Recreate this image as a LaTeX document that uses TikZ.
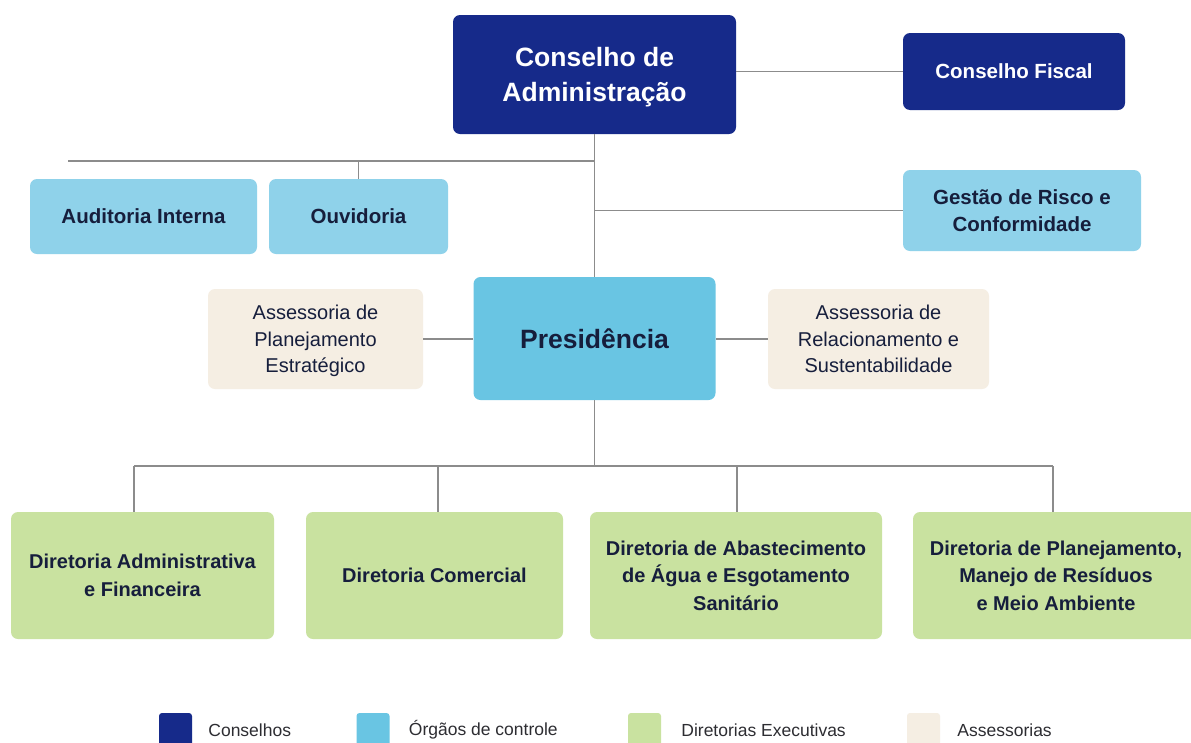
\documentclass[tikz,border=0pt]{standalone}
\usepackage{fontspec}
\setmainfont{Liberation Sans}
\usepackage{tikz}

\definecolor{navy}{RGB}{22,42,138}
\definecolor{ctrlblue}{RGB}{143,210,234}
\definecolor{presblue}{RGB}{105,197,227}
\definecolor{dirgreen}{RGB}{201,226,160}
\definecolor{assbeige}{RGB}{245,238,227}
\definecolor{linegray}{RGB}{140,140,140}
\definecolor{darktext}{RGB}{22,30,60}
\definecolor{legtext}{RGB}{45,45,50}

\tikzset{
  box/.style={rounded corners=7pt, align=center, inner sep=0pt},
  conselho/.style={box, fill=navy, text=white, font=\bfseries},
  controle/.style={box, fill=ctrlblue, text=darktext, font=\fontsize{20.5}{27.5}\selectfont\bfseries},
  diretoria/.style={box, fill=dirgreen, text=darktext, font=\fontsize{20}{27.5}\selectfont\bfseries, minimum height=127pt},
  assessoria/.style={box, fill=assbeige, text=darktext, font=\fontsize{20}{26.5}\selectfont, minimum width=215pt, minimum height=100pt, text depth=0pt},
  legbox/.style={rounded corners=3pt, minimum width=33pt, minimum height=34pt, inner sep=0pt},
  legtxt/.style={anchor=west, text=legtext, font=\fontsize{17.5}{20}\selectfont, inner sep=0pt},
  conn/.style={draw=linegray, line width=1.6pt}
}

\begin{document}
\begin{tikzpicture}[x=1pt, y=-1pt]
\useasboundingbox[fill=white] (0,0) rectangle (1191,742);

% Conselhos
\node[conselho, minimum width=283pt, minimum height=119pt, text depth=0pt, font=\fontsize{26.5}{35}\selectfont\bfseries] (CA) at (594.5,74.5) {Conselho de\\Administração};
\node[conselho, minimum width=222pt, minimum height=77pt, font=\fontsize{20.5}{26}\selectfont\bfseries] (CF) at (1014,71.5) {Conselho Fiscal};

% Orgaos de controle
\node[controle, minimum width=227pt, minimum height=75pt] (AI) at (143.5,216.5) {Auditoria Interna};
\node[controle, minimum width=179pt, minimum height=75pt] (OUV) at (358.5,216.5) {Ouvidoria};
\node[controle, minimum width=238pt, minimum height=81pt] (GRC) at (1022,210.5) {Gestão de Risco e\\Conformidade};

% Presidencia e assessorias
\node[box, fill=presblue, text=darktext, minimum width=242pt, minimum height=123pt, font=\fontsize{26.5}{32}\selectfont\bfseries] (PRES) at (594.5,338.5) {Presidência};
\node[assessoria] (APE) at (315.5,339) {Assessoria de\\Planejamento\\Estratégico};
\node[assessoria, minimum width=221pt] (ARS) at (878.5,339) {Assessoria de\\Relacionamento e\\Sustentabilidade};

% Diretorias
\node[diretoria, minimum width=263pt] (D1) at (142.5,575.5) {Diretoria Administrativa\\e Financeira};
\node[diretoria, minimum width=257pt] (D2) at (434.5,575.5) {Diretoria Comercial};
\node[diretoria, minimum width=292pt] (D3) at (736,575.5) {Diretoria de Abastecimento\\de Água e Esgotamento\\Sanitário};
\node[diretoria, minimum width=286pt] (D4) at (1056,575.5) {Diretoria de Planejamento,\\Manejo de Resíduos\\e Meio Ambiente};

% Connectors
\coordinate (ctrlbus) at (68,161);
\coordinate (dirbus) at (594.5,466);
\draw[conn] (CA.east |- CF.west) -- (CF.west);
\draw[conn] (CA.south) -- (PRES.north);
\draw[conn] (ctrlbus) -- (ctrlbus -| CA.south);
\draw[conn] (OUV.north |- ctrlbus) -- (OUV.north);
\draw[conn] (CA.south |- GRC.west) -- (GRC.west);
\draw[conn] (APE.east) -- (APE.east -| PRES.west);
\draw[conn] (ARS.west) -- (ARS.west -| PRES.east);
\draw[conn] (PRES.south) -- (dirbus);
\draw[conn] ([xshift=-8.5pt]D1.north |- dirbus) -- ([xshift=-3pt]D4.north |- dirbus);
\draw[conn] ([xshift=-8.5pt]D1.north |- dirbus) -- ([xshift=-8.5pt]D1.north);
\draw[conn] ([xshift=3.5pt]D2.north |- dirbus) -- ([xshift=3.5pt]D2.north);
\draw[conn] ([xshift=1pt]D3.north |- dirbus) -- ([xshift=1pt]D3.north);
\draw[conn] ([xshift=-3pt]D4.north |- dirbus) -- ([xshift=-3pt]D4.north);

% Legend
\node[legbox, fill=navy] (L1) at (175.5,730) {};
\node[legtxt] (T1) at ([xshift=16pt]L1.east) {Conselhos};
\node[legbox, fill=presblue] (L2) at (373,730) {};
\node[legtxt] (T2) at ([xshift=19pt]L2.east) {Órgãos de controle};
\node[legbox, fill=dirgreen] (L3) at (644.5,730) {};
\node[legtxt] (T3) at ([xshift=20pt]L3.east) {Diretorias Executivas};
\node[legbox, fill=assbeige] (L4) at (923.5,730) {};
\node[legtxt] (T4) at ([xshift=17pt]L4.east) {Assessorias};
\end{tikzpicture}
\end{document}
